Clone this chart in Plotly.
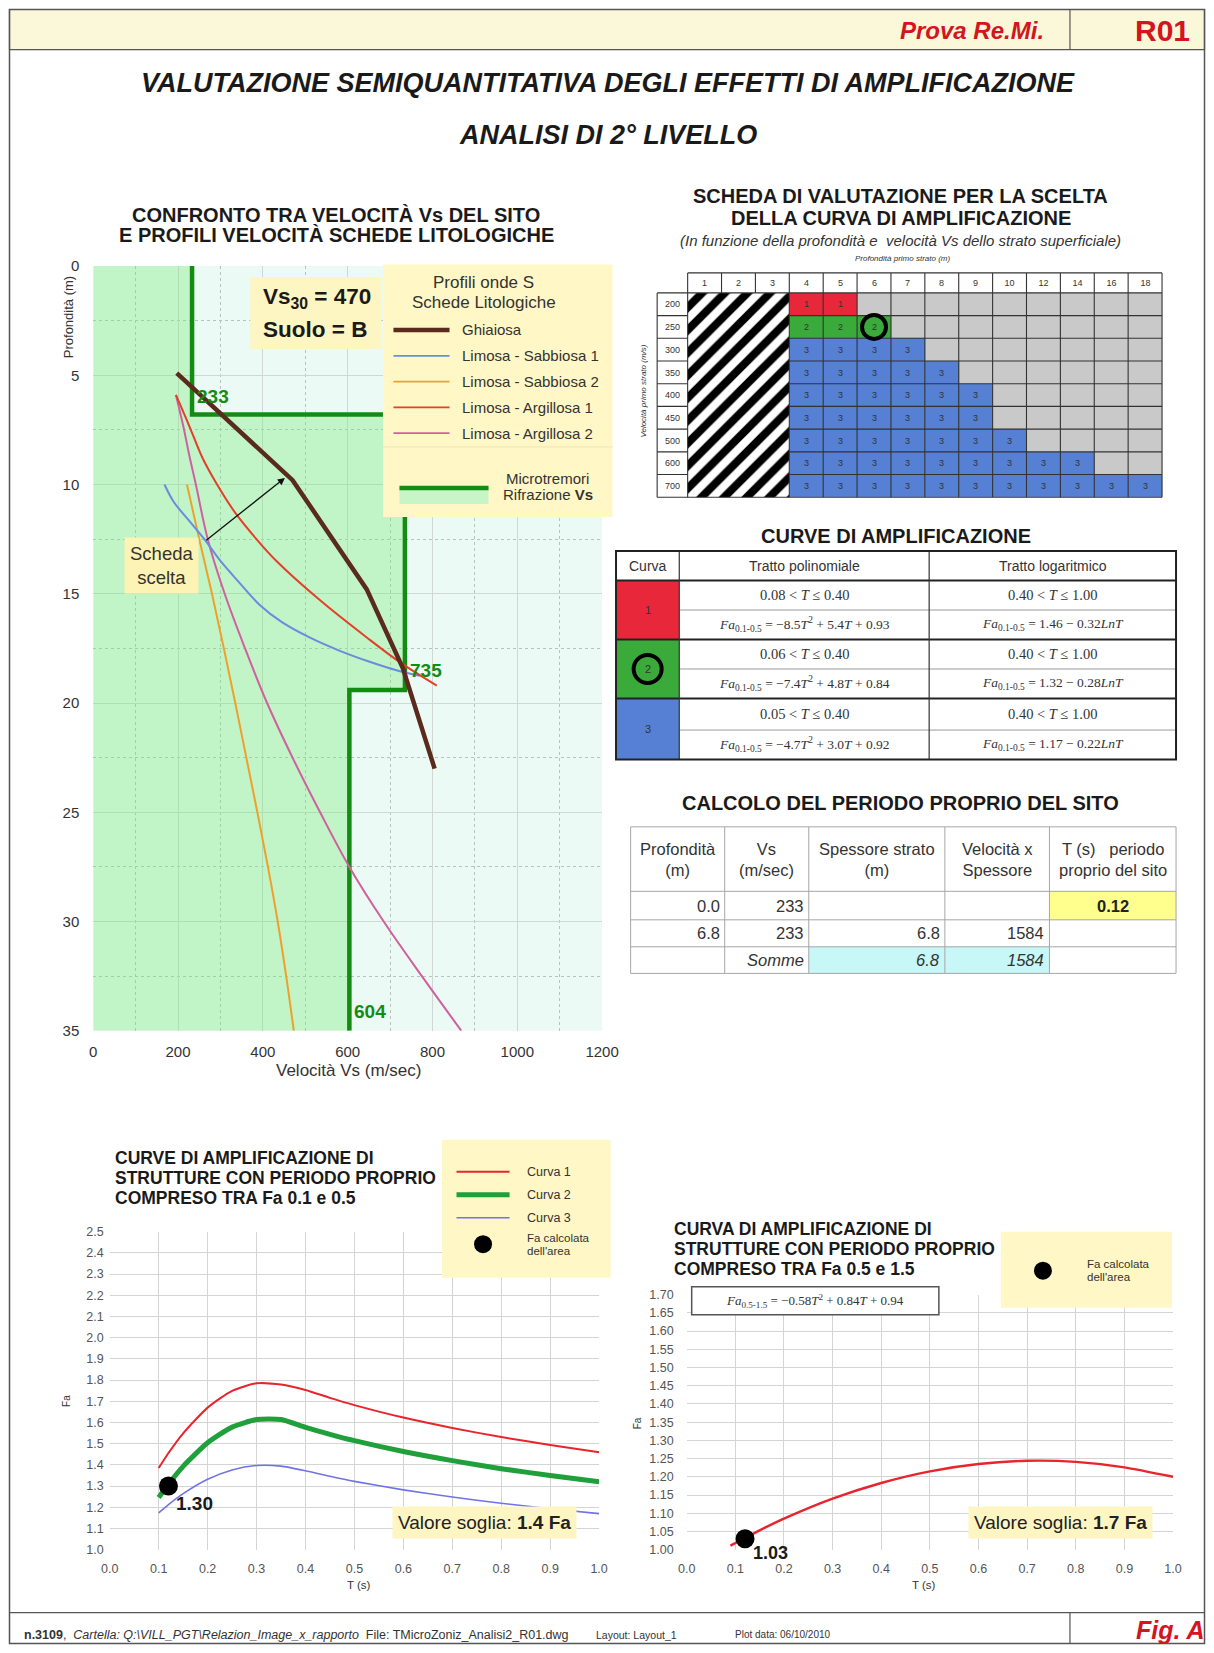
import plotly.graph_objects as go

# Layout positions below are given in page pixels of the finished picture.
# The page body keeps its default 8 px margin and the page is rendered slightly
# scaled, so positions are mapped into figure pixels through px()/py().
W, H = 1214, 1653
BODY = 8
KX, KY = 0.978, 0.99
FW, FH = 1222, 1652
SANS = "Liberation Sans, Arial, Helvetica, sans-serif"
SERIF = "Liberation Serif, Times New Roman, serif"


def px(x):
    f = x / KX - BODY
    f = min(max(f, 0.5), FW - 0.5)
    return f / FW


def py(y):
    f = y / KY - BODY
    f = min(max(f, 0.5), FH - 0.5)
    return 1 - f / FH


# ---------------- site Vs profile (Re.Mi.) ----------------
site_vs = [233, 735, 604]
site_layer_top = [0.0, 6.8, 19.4]
site_max_depth = 35.0
vs30 = 470
soil_class = "B"

# ---------------- lithological reference profiles ----------------
ghiaiosa_vs = [197, 470, 645, 730, 805]
ghiaiosa_z = [4.9, 9.8, 14.8, 18.4, 23.0]
lim_sabb1_vs = [168, 190, 228, 262, 300, 345, 392, 445, 510, 580, 650, 715, 770]
lim_sabb1_z = [10.0, 10.8, 11.7, 12.5, 13.5, 14.5, 15.5, 16.3, 17.0, 17.6, 18.1, 18.5, 18.75]
lim_sabb2_vs = [221, 250, 280, 308, 335, 361, 387, 412, 435, 455, 473]
lim_sabb2_z = [10.0, 12.5, 15.0, 17.5, 20.0, 22.5, 25.0, 27.5, 30.0, 32.5, 35.0]
lim_arg1_vs = [195, 226, 258, 292, 335, 385, 432, 535, 645, 728, 810]
lim_arg1_z = [5.9, 7.3, 8.8, 10.0, 11.3, 12.5, 13.5, 15.3, 17.0, 18.2, 19.2]
lim_arg2_vs = [195, 212, 228, 242, 270, 310, 358, 410, 470, 535, 604, 685, 775, 868]
lim_arg2_z = [5.9, 7.3, 8.8, 10.0, 12.5, 15.0, 17.5, 20.0, 22.5, 25.0, 27.5, 30.0, 32.5, 35.0]
litho_names = ["Ghiaiosa", "Limosa - Sabbiosa 1", "Limosa - Sabbiosa 2",
               "Limosa - Argillosa 1", "Limosa - Argillosa 2"]

# ---------------- evaluation chart (first layer depth x Vs) ----------------
scheda_depths = [1, 2, 3, 4, 5, 6, 7, 8, 9, 10, 12, 14, 16, 18]
scheda_vels = [200, 250, 300, 350, 400, 450, 500, 600, 700]
scheda_codes = [
    "HHH11000000000",
    "HHH22200000000",
    "HHH33330000000",
    "HHH33333000000",
    "HHH33333300000",
    "HHH33333300000",
    "HHH33333330000",
    "HHH33333333300",
    "HHH33333333333",
]
chosen_depth = 6
chosen_vel = 250
chosen_curve = 2

# ---------------- amplification curve table ----------------
curve_ids = [1, 2, 3]
poly_ranges = ["0.08", "0.06", "0.05"]
poly_a = [-8.5, -7.4, -4.7]
poly_b = [5.4, 4.8, 3.0]
poly_c = [0.93, 0.84, 0.92]
log_a = [1.46, 1.32, 1.17]
log_b = [0.32, 0.28, 0.22]

# ---------------- site period computation ----------------
period_headers = ["Profondità<br>(m)", "Vs<br>(m/sec)", "Spessore strato<br>(m)",
                  "Velocità x<br>Spessore", "T (s)   periodo<br>proprio del sito"]
period_depth = ["0.0", "6.8"]
period_vs = ["233", "233"]
period_thick = ["", "6.8"]
period_vxs = ["", "1584"]
period_sum_thick = "6.8"
period_sum_vxs = "1584"
site_period = 0.12

# ---------------- amplification curves Fa 0.1-0.5 ----------------
t_short = [0.10, 0.12, 0.15, 0.20, 0.25, 0.30, 0.35, 0.40, 0.45, 0.50, 0.60, 0.70, 0.80, 0.90, 1.00]
fa_curve1 = [1.385, 1.456, 1.549, 1.670, 1.749, 1.785, 1.779, 1.753, 1.716, 1.682, 1.623, 1.574,
             1.531, 1.494, 1.460]
fa_curve2 = [1.246, 1.309, 1.393, 1.504, 1.578, 1.614, 1.614, 1.577, 1.544, 1.514, 1.463, 1.420,
             1.382, 1.350, 1.320]
fa_curve3 = [1.173, 1.212, 1.264, 1.332, 1.376, 1.397, 1.394, 1.372, 1.346, 1.322, 1.282, 1.248,
             1.219, 1.193, 1.170]
fa_site_short = 1.30
threshold_short = 1.4

# ---------------- amplification curve Fa 0.5-1.5 ----------------
t_long = [0.09, 0.12, 0.15, 0.20, 0.30, 0.40, 0.50, 0.60, 0.70, 0.80, 0.90, 1.00]
fa_long = [1.011, 1.032, 1.053, 1.085, 1.140, 1.183, 1.215, 1.235, 1.244, 1.241, 1.226, 1.200]
long_coef = [-0.58, 0.84, 0.94]
fa_site_long = 1.03
threshold_long = 1.7

# ---------------- colours ----------------
C_BROWN = "#5a2a1c"
C_BLUE = "#6a8ce0"
C_ORANGE = "#f0a02a"
C_RED = "#e2402a"
C_PINK = "#d0609e"
C_STEP = "#148c14"
C_YELLOW = "#fdf5c2"
CURVE_FILL = {1: "#e8283a", 2: "#3aaa3a", 3: "#5580d4"}
AMP_COL = {1: "#e8242c", 2: "#1fa03a", 3: "#7272e6"}

fig = go.Figure()
shapes, ann = [], []


def note(x, y, text, size, color="#222", family=SANS, xa="center", ya="middle", **kw):
    ann.append(dict(x=px(x), y=py(y), xref="paper", yref="paper", text=text,
                    showarrow=False, font=dict(size=size, color=color, family=family),
                    xanchor=xa, yanchor=ya, **kw))


def rect(x0, y0, x1, y1, fill="rgba(0,0,0,0)", lc="rgba(0,0,0,0)", lw=0, layer="above"):
    shapes.append(dict(type="rect", xref="paper", yref="paper", x0=px(x0), x1=px(x1),
                       y0=py(y1), y1=py(y0), fillcolor=fill, line=dict(color=lc, width=lw),
                       layer=layer))


def seg(x0, y0, x1, y1, color="#333", width=1):
    shapes.append(dict(type="line", xref="paper", yref="paper", x0=px(x0), x1=px(x1),
                       y0=py(y0), y1=py(y1), line=dict(color=color, width=width)))


# ================= page frame =================
rect(3, 8, 1211, 48.5, fill="#fbf8d9", lc="#555", lw=1.2, layer="below")
rect(3, 8, 1211, 1650, lc="#555", lw=1.5)
seg(1068, 8, 1068, 48.5, "#555", 1.2)
seg(3, 1612, 1211, 1612, "#555", 1.2)
seg(1068, 1612, 1068, 1650, "#555", 1.2)
note(970, 29, "<b><i>Prova Re.Mi.</i></b>", 24, "#d4141e")
note(1160, 29, "<b>R01</b>", 30, "#d4141e")
note(606, 82, "<b><i>VALUTAZIONE SEMIQUANTITATIVA DEGLI EFFETTI DI AMPLIFICAZIONE</i></b>",
     27, "#1a1a1a")
note(606, 134, "<b><i>ANALISI DI 2° LIVELLO</i></b>", 27, "#1a1a1a")
note(21, 1634, "<b>n.3109</b>,  <i>Cartella: Q:\\VILL_PGT\\Relazion_Image_x_rapporto</i>"
     "  File: TMicroZoniz_Analisi2_R01.dwg", 12.5, "#333", xa="left")
note(592, 1634, "Layout: Layout_1", 10.5, "#333", xa="left")
note(731, 1634, "Plot data: 06/10/2010", 10, "#333", xa="left")
note(1168, 1629, "<b><i>Fig. A</i></b>", 25, "#d4141e")

# ================= left chart: Vs profiles =================
step_x, step_y = [], []
bottoms = site_layer_top[1:] + [site_max_depth]
for vs, top, bot in zip(site_vs, site_layer_top, bottoms):
    step_x += [vs, vs]
    step_y += [top, bot]

shapes.append(dict(type="rect", xref="x domain", yref="y domain", x0=0, x1=1, y0=0, y1=1,
                   fillcolor="#ebfaf4", line=dict(width=0), layer="below"))
fig.add_trace(go.Scatter(x=step_x, y=step_y, mode="lines", fill="tozerox",
                         fillcolor="rgba(120,232,120,0.36)",
                         line=dict(color=C_STEP, width=4.5), xaxis="x", yaxis="y",
                         hoverinfo="skip"))
for xs, zs, col, wd, shp in [
    (lim_sabb2_vs, lim_sabb2_z, C_ORANGE, 2, "spline"),
    (lim_arg2_vs, lim_arg2_z, C_PINK, 2, "spline"),
    (lim_sabb1_vs, lim_sabb1_z, C_BLUE, 2, "spline"),
    (lim_arg1_vs, lim_arg1_z, C_RED, 2, "spline"),
    (ghiaiosa_vs, ghiaiosa_z, C_BROWN, 4.5, "linear"),
]:
    fig.add_trace(go.Scatter(x=xs, y=zs, mode="lines", line=dict(color=col, width=wd, shape=shp),
                             xaxis="x", yaxis="y", hoverinfo="skip"))

# layer velocity labels
label_depths = [5.95, 18.5, 34.1]
for vs, zl in zip(site_vs, label_depths):
    ann.append(dict(x=vs, y=zl, xref="x", yref="y", text=f"<b>{vs}</b>", showarrow=False,
                    xanchor="left", xshift=3, font=dict(size=19, color=C_STEP, family=SANS)))

# chosen lithology arrow + label
ann.append(dict(x=452, y=9.7, ax=263, ay=12.6, xref="x", yref="y", axref="x", ayref="y",
                text="", showarrow=True, arrowhead=2, arrowsize=1.1, arrowwidth=1.3,
                arrowcolor="#111"))
ann.append(dict(x=160, y=13.7, xref="x", yref="y", text="Scheda<br>scelta", showarrow=False,
                bgcolor="#fdf3b4", borderpad=5, font=dict(size=18.5, color="#333", family=SANS)))

# Vs30 box
rect(249, 276, 380, 348, fill=C_YELLOW)
note(260, 297, f"<b>Vs<sub>30</sub> = {vs30}</b>", 22.5, "#1a1a1a", xa="left")
note(260, 329, f"<b>Suolo = {soil_class}</b>", 22.5, "#1a1a1a", xa="left")

# legend box
rect(381.5, 263.5, 611, 516, fill="#fff7c6")
seg(381.5, 446, 611, 446, "#eee4b4", 1)
note(482, 282, "Profili onde S", 17, "#333")
note(482, 302, "Schede Litologiche", 17, "#333")
leg_cols = [C_BROWN, C_BLUE, C_ORANGE, C_RED, C_PINK]
leg_w = [4.5, 1.8, 1.8, 1.8, 1.8]
for i, (name, col, wd) in enumerate(zip(litho_names, leg_cols, leg_w)):
    yy = 329 + i * 25.8
    seg(392, yy, 448, yy, col, wd)
    note(458, yy, name, 15, "#333", xa="left")
rect(398, 487, 487, 503, fill="#c8f5c8")
seg(398, 487, 487, 487, C_STEP, 4.5)
note(546, 478, "Microtremori", 15, "#333")
note(546, 494, "Rifrazione <b>Vs</b>", 15, "#333")

note(335, 214, "<b>CONFRONTO TRA VELOCITÀ Vs DEL SITO</b>", 20, "#1a1a1a")
note(335, 234, "<b>E PROFILI VELOCITÀ SCHEDE LITOLOGICHE</b>", 20, "#1a1a1a")
note(348, 1070, "Velocità Vs (m/sec)", 17, "#333")
note(68, 316, "Profondità (m)", 13, "#333", textangle=-90)

# ================= evaluation chart (heatmap) =================
code_val = {"0": 0, "1": 1, "2": 2, "3": 3, "H": 5}
z = [[None] + [4] * len(scheda_depths)]
txt = [[""] + [str(d) for d in scheda_depths]]
for v, codes in zip(scheda_vels, scheda_codes):
    z.append([4] + [code_val[c] for c in codes])
    txt.append([str(v)] + [c if c in "123" else "" for c in codes])
n_c, n_r = len(scheda_depths), len(scheda_vels)
n_h = scheda_codes[0].count("H")
XL, YH = -0.9, -0.88
x_edges = [XL] + list(range(n_c + 1))
y_edges = [YH] + list(range(n_r + 1))
cs = [[0, "#c9c9c9"], [1 / 6, "#c9c9c9"], [1 / 6, CURVE_FILL[1]], [2 / 6, CURVE_FILL[1]],
      [2 / 6, CURVE_FILL[2]], [3 / 6, CURVE_FILL[2]], [3 / 6, CURVE_FILL[3]], [4 / 6, CURVE_FILL[3]],
      [4 / 6, "#ffffff"], [1, "#ffffff"]]
fig.add_trace(go.Heatmap(x=x_edges, y=y_edges, z=z, text=txt, texttemplate="%{text}",
                         textfont=dict(size=9, color="#333", family=SANS),
                         colorscale=cs, zmin=-0.5, zmax=5.5, showscale=False,
                         xaxis="x2", yaxis="y2", hoverinfo="skip"))
fig.add_trace(go.Bar(x=[n_h / 2], y=[n_r], base=[0], width=[n_h], xaxis="x2", yaxis="y2",
                     marker=dict(color="white", line=dict(width=0),
                                 pattern=dict(shape="/", fgcolor="#000", bgcolor="white",
                                              fgopacity=1, size=16, solidity=0.5)),
                     hoverinfo="skip"))
gx, gy = [], []


def gseg(x0, y0, x1, y1):
    gx.extend([x0, x1, None])
    gy.extend([y0, y1, None])


gseg(XL, 0, XL, n_r)
for i in range(n_c + 1):
    if 0 < i < n_h:
        gseg(i, YH, i, 0)
    else:
        gseg(i, YH, i, n_r)
gseg(0, YH, n_c, YH)
gseg(XL, 0, n_c, 0)
for j in range(1, n_r):
    gseg(XL, j, 0, j)
    gseg(n_h, j, n_c, j)
gseg(XL, n_r, n_c, n_r)
fig.add_trace(go.Scatter(x=gx, y=gy, mode="lines", line=dict(color="#333", width=1.1),
                         xaxis="x2", yaxis="y2", hoverinfo="skip", cliponaxis=False))
ci = scheda_depths.index(chosen_depth) + 0.5
cj = scheda_vels.index(chosen_vel) + 0.5
fig.add_trace(go.Scatter(x=[ci], y=[cj], mode="markers", xaxis="x2", yaxis="y2",
                         marker=dict(symbol="circle-open", size=24, color="#000",
                                     line=dict(width=4, color="#000")),
                         hoverinfo="skip"))
note(899, 195, "<b>SCHEDA DI VALUTAZIONE PER LA SCELTA</b>", 20, "#1a1a1a")
note(899, 217, "<b>DELLA CURVA DI AMPLIFICAZIONE</b>", 20, "#1a1a1a")
note(899, 239, "<i>(In funzione della profondità e  velocità Vs dello strato superficiale)</i>",
     15, "#333")
note(901, 257, "<i>Profondità primo strato (m)</i>", 8, "#333")
note(642, 390, "<i>Velocità primo strato (m/s)</i>", 8, "#333", textangle=-90)

# ================= amplification curves table =================
note(894, 535, "<b>CURVE DI AMPLIFICAZIONE</b>", 20, "#1a1a1a")
tx = [614.4, 677.6, 927.3, 1174]
ty = [550, 579.6, 609.1, 638.6, 668.1, 697.6, 729.2, 758.7]
note((tx[0] + tx[1]) / 2, (ty[0] + ty[1]) / 2, "Curva", 14, "#333")
note((tx[1] + tx[2]) / 2, (ty[0] + ty[1]) / 2, "Tratto polinomiale", 14, "#333")
note((tx[2] + tx[3]) / 2, (ty[0] + ty[1]) / 2, "Tratto logaritmico", 14, "#333")

for k, cid in enumerate(curve_ids):
    y0, ym, y1 = ty[1 + 2 * k], ty[2 + 2 * k], ty[3 + 2 * k]
    rect(tx[0], y0, tx[1], y1, fill=CURVE_FILL[cid])
    note((tx[0] + tx[1]) / 2, (y0 + y1) / 2, str(cid), 11, "#333")
    sub = "<sub>0.1-0.5</sub>"
    note((tx[1] + tx[2]) / 2, (y0 + ym) / 2,
         f"{poly_ranges[k]} &lt; <i>T</i> ≤ 0.40", 14.5, "#333", SERIF)
    note((tx[2] + tx[3]) / 2, (y0 + ym) / 2, "0.40 &lt; <i>T</i> ≤ 1.00", 14.5, "#333", SERIF)
    a, b, c = poly_a[k], poly_b[k], poly_c[k]
    note((tx[1] + tx[2]) / 2, (ym + y1) / 2,
         f"<i>Fa</i>{sub} = −{abs(a)}<i>T</i><sup>2</sup> + {b}<i>T</i> + {c}", 13.5, "#333", SERIF)
    note((tx[2] + tx[3]) / 2, (ym + y1) / 2,
         f"<i>Fa</i>{sub} = {log_a[k]} − {log_b[k]}<i>LnT</i>", 13.5, "#333", SERIF)
    seg(tx[1], ym, tx[3], ym, "#9a9a9a", 1)
    if cid == chosen_curve:
        cx, cy = (tx[0] + tx[1]) / 2, (y0 + y1) / 2
        shapes.append(dict(type="circle", xref="paper", yref="paper", x0=px(cx - 14),
                           x1=px(cx + 14), y0=py(cy + 14), y1=py(cy - 14),
                           line=dict(color="#000", width=4)))
for yy in [ty[1], ty[3], ty[5]]:
    seg(tx[0], yy, tx[3], yy, "#222", 2)
seg(tx[1], ty[0], tx[1], ty[-1], "#333", 1.2)
seg(tx[2], ty[0], tx[2], ty[-1], "#333", 1.2)
rect(tx[0], ty[0], tx[3], ty[-1], lc="#222", lw=2)

# ================= site period table =================
note(899, 802, "<b>CALCOLO DEL PERIODO PROPRIO DEL SITO</b>", 20, "#1a1a1a")
pxs = [629, 723, 807, 943, 1047.5, 1174]
pys = [826, 890.5, 919, 946, 972.6]
rect(pxs[4], pys[1], pxs[5], pys[2], fill="#ffff8e")
rect(pxs[2], pys[3], pxs[3], pys[4], fill="#c8f7f7")
rect(pxs[3], pys[3], pxs[4], pys[4], fill="#c8f7f7")
for xv in pxs:
    seg(xv, pys[0], xv, pys[-1], "#a6a6a6", 1)
for yv in pys:
    seg(pxs[0], yv, pxs[-1], yv, "#a6a6a6", 1)
for i, hd in enumerate(period_headers):
    note((pxs[i] + pxs[i + 1]) / 2, (pys[0] + pys[1]) / 2, hd, 16.5, "#333")
rows = [
    [period_depth[0], period_vs[0], period_thick[0], period_vxs[0]],
    [period_depth[1], period_vs[1], period_thick[1], period_vxs[1]],
    ["", "<i>Somme</i>", f"<i>{period_sum_thick}</i>", f"<i>{period_sum_vxs}</i>"],
]
for r, vals in enumerate(rows):
    yc = (pys[1 + r] + pys[2 + r]) / 2
    for i, v in enumerate(vals):
        if v:
            note(pxs[i + 1] - 3, yc, v, 16.5, "#333", xa="right")
note((pxs[4] + pxs[5]) / 2, (pys[1] + pys[2]) / 2, f"<b>{site_period:.2f}</b>", 16.5, "#222")

# ================= bottom-left: Fa 0.1-0.5 =================
for fa, cid, wd in [(fa_curve1, 1, 2), (fa_curve2, 2, 5), (fa_curve3, 3, 1.6)]:
    fig.add_trace(go.Scatter(x=t_short, y=fa, mode="lines",
                             line=dict(color=AMP_COL[cid], width=wd, shape="spline", smoothing=0.6),
                             xaxis="x3", yaxis="y3", hoverinfo="skip"))
fig.add_trace(go.Scatter(x=[site_period], y=[fa_site_short], mode="markers",
                         marker=dict(size=19, color="#000"), xaxis="x3", yaxis="y3",
                         hoverinfo="skip"))
ann.append(dict(x=site_period, y=fa_site_short, xref="x3", yref="y3", xanchor="left",
                xshift=6, yshift=-17, text=f"<b>{fa_site_short:.2f}</b>", showarrow=False,
                font=dict(size=19, color="#1a1a1a", family=SANS)))
note(483, 1522, f"Valore soglia: <b>{threshold_short} Fa</b>", 19, "#222",
     bgcolor="#fdf5c2", borderpad=5)
note(112, 1157, "<b>CURVE DI AMPLIFICAZIONE DI</b>", 17.5, "#1a1a1a", xa="left")
note(112, 1177, "<b>STRUTTURE CON PERIODO PROPRIO</b>", 17.5, "#1a1a1a", xa="left")
note(112, 1197, "<b>COMPRESO TRA Fa 0.1 e 0.5</b>", 17.5, "#1a1a1a", xa="left")
rect(440.5, 1139, 609, 1277, fill="#fff7c6")
for i, (cid, wd) in enumerate([(1, 2), (2, 5), (3, 1.6)]):
    yy = 1171 + i * 23
    seg(455, yy, 508, yy, AMP_COL[cid], wd)
    note(523, yy, f"Curva {cid}", 12.5, "#333", xa="left")
shapes.append(dict(type="circle", xref="paper", yref="paper", x0=px(472.5), x1=px(490.5),
                   y0=py(1252.5), y1=py(1234.5), fillcolor="#000", line=dict(color="#000", width=0)))
note(523, 1237, "Fa calcolata", 11.5, "#333", xa="left")
note(523, 1250, "dell'area", 11.5, "#333", xa="left")
note(358, 1584, "T (s)", 11.5, "#333")
note(65, 1400, "Fa", 10, "#333", textangle=-90)

# ================= bottom-right: Fa 0.5-1.5 =================
fig.add_trace(go.Scatter(x=t_long, y=fa_long, mode="lines",
                         line=dict(color=AMP_COL[1], width=2.4, shape="spline", smoothing=0.6),
                         xaxis="x4", yaxis="y4", hoverinfo="skip"))
fig.add_trace(go.Scatter(x=[site_period], y=[fa_site_long], mode="markers",
                         marker=dict(size=19, color="#000"), xaxis="x4", yaxis="y4",
                         hoverinfo="skip", cliponaxis=False))
ann.append(dict(x=site_period, y=fa_site_long, xref="x4", yref="y4", xanchor="left",
                xshift=6, yshift=-14, text=f"<b>{fa_site_long:.2f}</b>", showarrow=False,
                font=dict(size=18, color="#1a1a1a", family=SANS)))
note(1059, 1522, f"Valore soglia: <b>{threshold_long} Fa</b>", 19, "#222",
     bgcolor="#fdf5c2", borderpad=5)
note(670, 1228, "<b>CURVA DI AMPLIFICAZIONE DI</b>", 17.5, "#1a1a1a", xa="left")
note(670, 1248, "<b>STRUTTURE CON PERIODO PROPRIO</b>", 17.5, "#1a1a1a", xa="left")
note(670, 1268, "<b>COMPRESO TRA Fa 0.5 e 1.5</b>", 17.5, "#1a1a1a", xa="left")
rect(999, 1231, 1170, 1307, fill="#fff7c6")
shapes.append(dict(type="circle", xref="paper", yref="paper", x0=px(1032), x1=px(1050),
                   y0=py(1279), y1=py(1261), fillcolor="#000", line=dict(color="#000", width=0)))
note(1083, 1263, "Fa calcolata", 11.5, "#333", xa="left")
note(1083, 1276, "dell'area", 11.5, "#333", xa="left")
rect(690, 1286, 937, 1314, fill="white", lc="#555", lw=1.5)
note(813.5, 1300,
     f"<i>Fa</i><sub>0.5-1.5</sub> = −{abs(long_coef[0])}<i>T</i><sup>2</sup> + {long_coef[1]}<i>T</i>"
     f" + {long_coef[2]}", 13, "#333", SERIF)
note(922, 1584, "T (s)", 11.5, "#333")
note(636, 1423, "Fa", 10, "#333", textangle=-90)

# ================= axes =================
unit_x = (1160 - 655.5) / (n_c - XL)
unit_y = (496.3 - 271.9) / (n_r - YH)
pad = 0.05
small_ax = dict(showgrid=True, gridcolor="#d4d4d4", gridwidth=1, zeroline=False,
                showline=False, ticks="", tickfont=dict(size=12.5, color="#555", family=SANS))
fig.update_layout(
    width=FW, height=FH, autosize=False, margin=dict(l=0, r=0, t=0, b=0),
    paper_bgcolor="white", plot_bgcolor="white", showlegend=False,
    font=dict(family=SANS, color="#222"),
    xaxis=dict(domain=[px(92), px(600.5)], range=[0, 1200], anchor="y", tick0=0, dtick=200,
               showgrid=True, gridcolor="#cfd8d3", zeroline=False, showline=False, ticks="",
               minor=dict(dtick=100, showgrid=True, gridcolor="#b9c2bd", griddash="3px,3px"),
               tickfont=dict(size=15, color="#333"), ticklabelstandoff=10),
    yaxis=dict(domain=[py(1030), py(265)], range=[35, 0], anchor="x", tick0=0, dtick=5,
               showgrid=True, gridcolor="#cfd8d3", zeroline=False, showline=False, ticks="",
               minor=dict(dtick=2.5, showgrid=True, gridcolor="#b9c2bd", griddash="3px,3px"),
               tickfont=dict(size=15, color="#333"), ticklabelstandoff=13),
    xaxis2=dict(domain=[px(655.5 - pad * unit_x), px(1160 + pad * unit_x)],
                range=[XL - pad, n_c + pad], anchor="y2", visible=False),
    yaxis2=dict(domain=[py(496.3 + pad * unit_y), py(271.9 - pad * unit_y)],
                range=[n_r + pad, YH - pad], anchor="x2", visible=False),
    xaxis3=dict(domain=[px(108.5), px(597.5)], range=[0, 1.0], anchor="y3", dtick=0.1,
                tickformat=".1f", ticklabelstandoff=10, **small_ax),
    yaxis3=dict(domain=[py(1549), py(1231)], range=[1.0, 2.5], anchor="x3", dtick=0.1,
                tickformat=".1f", ticklabelstandoff=5, **small_ax),
    xaxis4=dict(domain=[px(685), px(1171)], range=[0, 1.0], anchor="y4", dtick=0.1,
                tickformat=".1f", ticklabelstandoff=10, **small_ax),
    yaxis4=dict(domain=[py(1549), py(1294)], range=[1.0, 1.70], anchor="x4", dtick=0.05,
                tickformat=".2f", ticklabelstandoff=12, **small_ax),
    shapes=shapes, annotations=ann,
)

fig.write_html("out.html")
